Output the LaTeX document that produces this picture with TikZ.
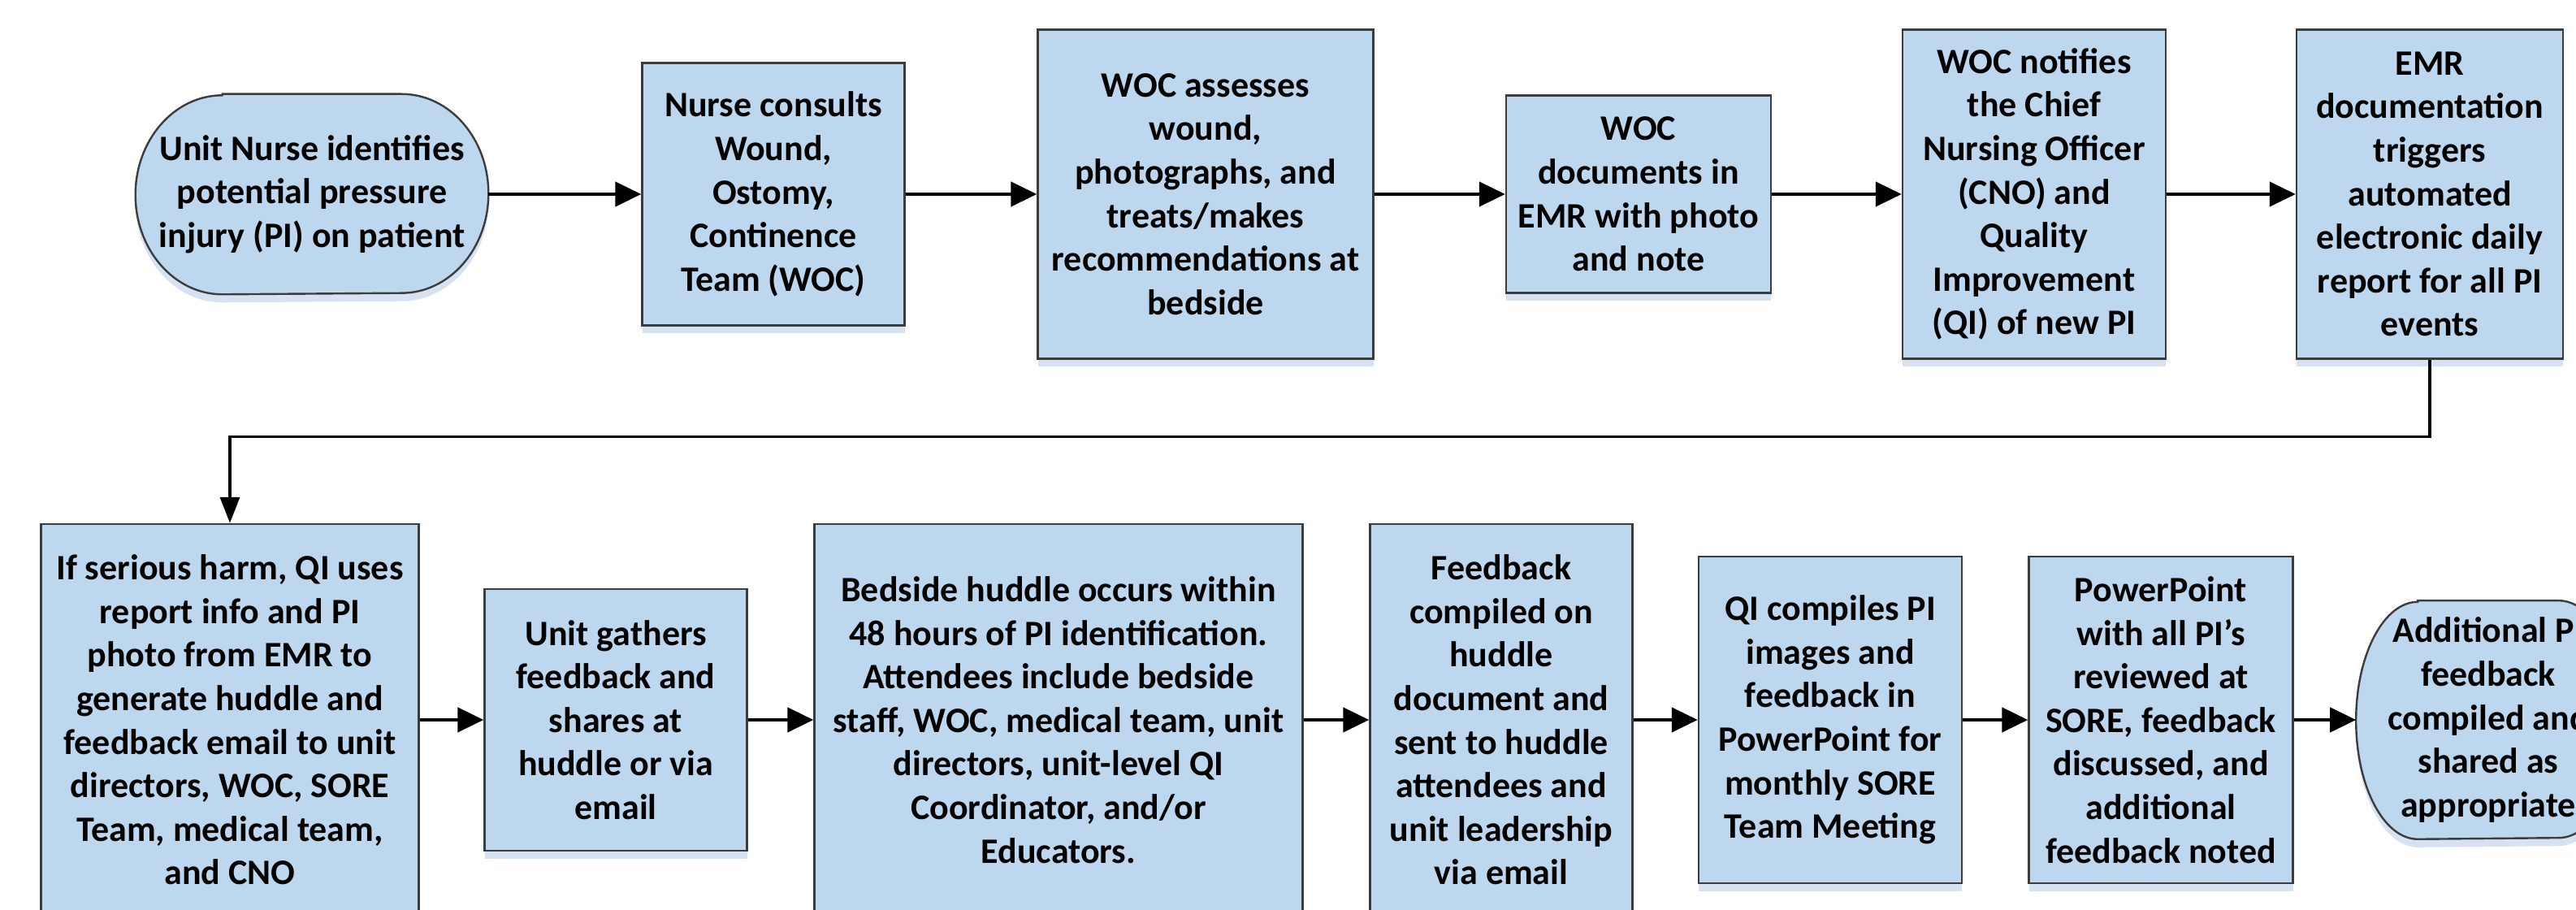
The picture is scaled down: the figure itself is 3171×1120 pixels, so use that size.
\documentclass[tikz,border=0pt]{standalone}
\usepackage{fontspec}
\setmainfont{Carlito}
\usetikzlibrary{arrows.meta,shadows,backgrounds}
\definecolor{boxfill}{RGB}{189,215,238}
\definecolor{boxline}{RGB}{60,60,60}
\definecolor{shadowc}{RGB}{214,226,242}
\tikzset{
  txt/.style={align=center, inner sep=1pt, font=\fontsize{11}{13.4}\selectfont\bfseries},
  box/.style={txt, draw=boxline, line width=0.6pt, fill=boxfill,
    drop shadow={shadow xshift=0pt, shadow yshift=-2.5pt, fill=shadowc, opacity=1}},
  termnode/.style={txt, draw=none},
  termshape/.style={draw=boxline, line width=0.6pt, fill=boxfill,
    drop shadow={shadow xshift=0pt, shadow yshift=-2.5pt, fill=shadowc, opacity=1}},
  flow/.style={line width=1.1pt, -{Triangle[length=8pt,width=7.5pt]}},
  link/.style={line width=0.8pt, -{Triangle[length=8pt,width=6pt]}}
}
\newcommand{\termpath}[3]{% name, x radius, y radius
  \path[termshape] ([xshift=#2]#1.north west) -- ([xshift=-#2]#1.north east)
    arc[start angle=90, end angle=-90, x radius=#2, y radius=#3]
    -- ([xshift=#2]#1.south west)
    arc[start angle=270, end angle=90, x radius=#2, y radius=#3] -- cycle;}
\begin{document}
\begin{tikzpicture}[x=0.25pt,y=-0.25pt]
\useasboundingbox (0,0) rectangle (3171,1120);

% top row
\node[termnode, minimum width=108.25pt, minimum height=61.25pt] (start) at (384,239)
  {Unit Nurse identifies\\potential pressure\\injury (PI) on patient};
\node[box, minimum width=80.75pt, minimum height=80.75pt] (nurse) at (952,239)
  {Nurse consults\\Wound,\\Ostomy,\\Continence\\Team (WOC)};
\node[box, minimum width=103.25pt, minimum height=101.25pt] (assess) at (1484,239)
  {WOC assesses\\wound,\\photographs, and\\treats/makes\\recommendations at\\bedside};
\node[box, minimum width=81.5pt, minimum height=60.75pt] (docs) at (2017,239)
  {WOC\\documents in\\EMR with photo\\and note};
\node[box, minimum width=81pt, minimum height=101.25pt] (notify) at (2504,239)
  {WOC notifies\\the Chief\\Nursing Officer\\(CNO) and\\Quality\\Improvement\\(QI) of new PI};
\node[box, minimum width=82pt, minimum height=101.25pt] (emr) at (2991,239)
  {EMR\\documentation\\triggers\\automated\\electronic daily\\report for all PI\\events};

% bottom row
\node[box, minimum width=116.25pt, minimum height=120.5pt] (serious) at (283,886)
  {If serious harm, QI uses\\report info and PI\\photo from EMR to\\generate huddle and\\feedback email to unit\\directors, WOC, SORE\\Team, medical team,\\and CNO};
\node[box, minimum width=80.75pt, minimum height=80.5pt] (gather) at (758,886)
  {Unit gathers\\feedback and\\shares at\\huddle or via\\email};
\node[box, minimum width=150.25pt, minimum height=120.5pt] (huddle) at (1303,886)
  {Bedside huddle occurs within\\48 hours of PI identification.\\Attendees include bedside\\staff, WOC, medical team, unit\\directors, unit-level QI\\Coordinator, and/or\\Educators.};
\node[box, minimum width=80.75pt, minimum height=120.5pt] (compiled) at (1848,886)
  {Feedback\\compiled on\\huddle\\document and\\sent to huddle\\attendees and\\unit leadership\\via email};
\node[box, minimum width=81pt, minimum height=100.5pt] (qi) at (2253,886)
  {QI compiles PI\\images and\\feedback in\\PowerPoint for\\monthly SORE\\Team Meeting};
\node[box, minimum width=81.25pt, minimum height=100.5pt] (ppt) at (2660,886)
  {PowerPoint\\with all PI’s\\reviewed at\\SORE, feedback\\discussed, and\\additional\\feedback noted};
\node[termnode, minimum width=81pt, minimum height=73pt] (add) at (3063,886)
  {Additional PI\\feedback\\compiled and\\shared as\\appropriate};

\begin{scope}[on background layer]
  \termpath{start}{26.75pt}{30.625pt}
  \termpath{add}{19pt}{36.5pt}
\end{scope}

% connectors
\draw[flow] (start.east) -- (nurse.west);
\draw[flow] (nurse.east) -- (assess.west);
\draw[flow] (assess.east) -- (docs.west);
\draw[flow] (docs.east) -- (notify.west);
\draw[flow] (notify.east) -- (emr.west);
\draw[link] (emr.south) -- ++(0,95) -| (serious.north);
\draw[flow] (serious.east) -- (gather.west);
\draw[flow] (gather.east) -- (huddle.west);
\draw[flow] (huddle.east) -- (compiled.west);
\draw[flow] (compiled.east) -- (qi.west);
\draw[flow] (qi.east) -- (ppt.west);
\draw[flow] (ppt.east) -- (add.west);
\end{tikzpicture}
\end{document}
